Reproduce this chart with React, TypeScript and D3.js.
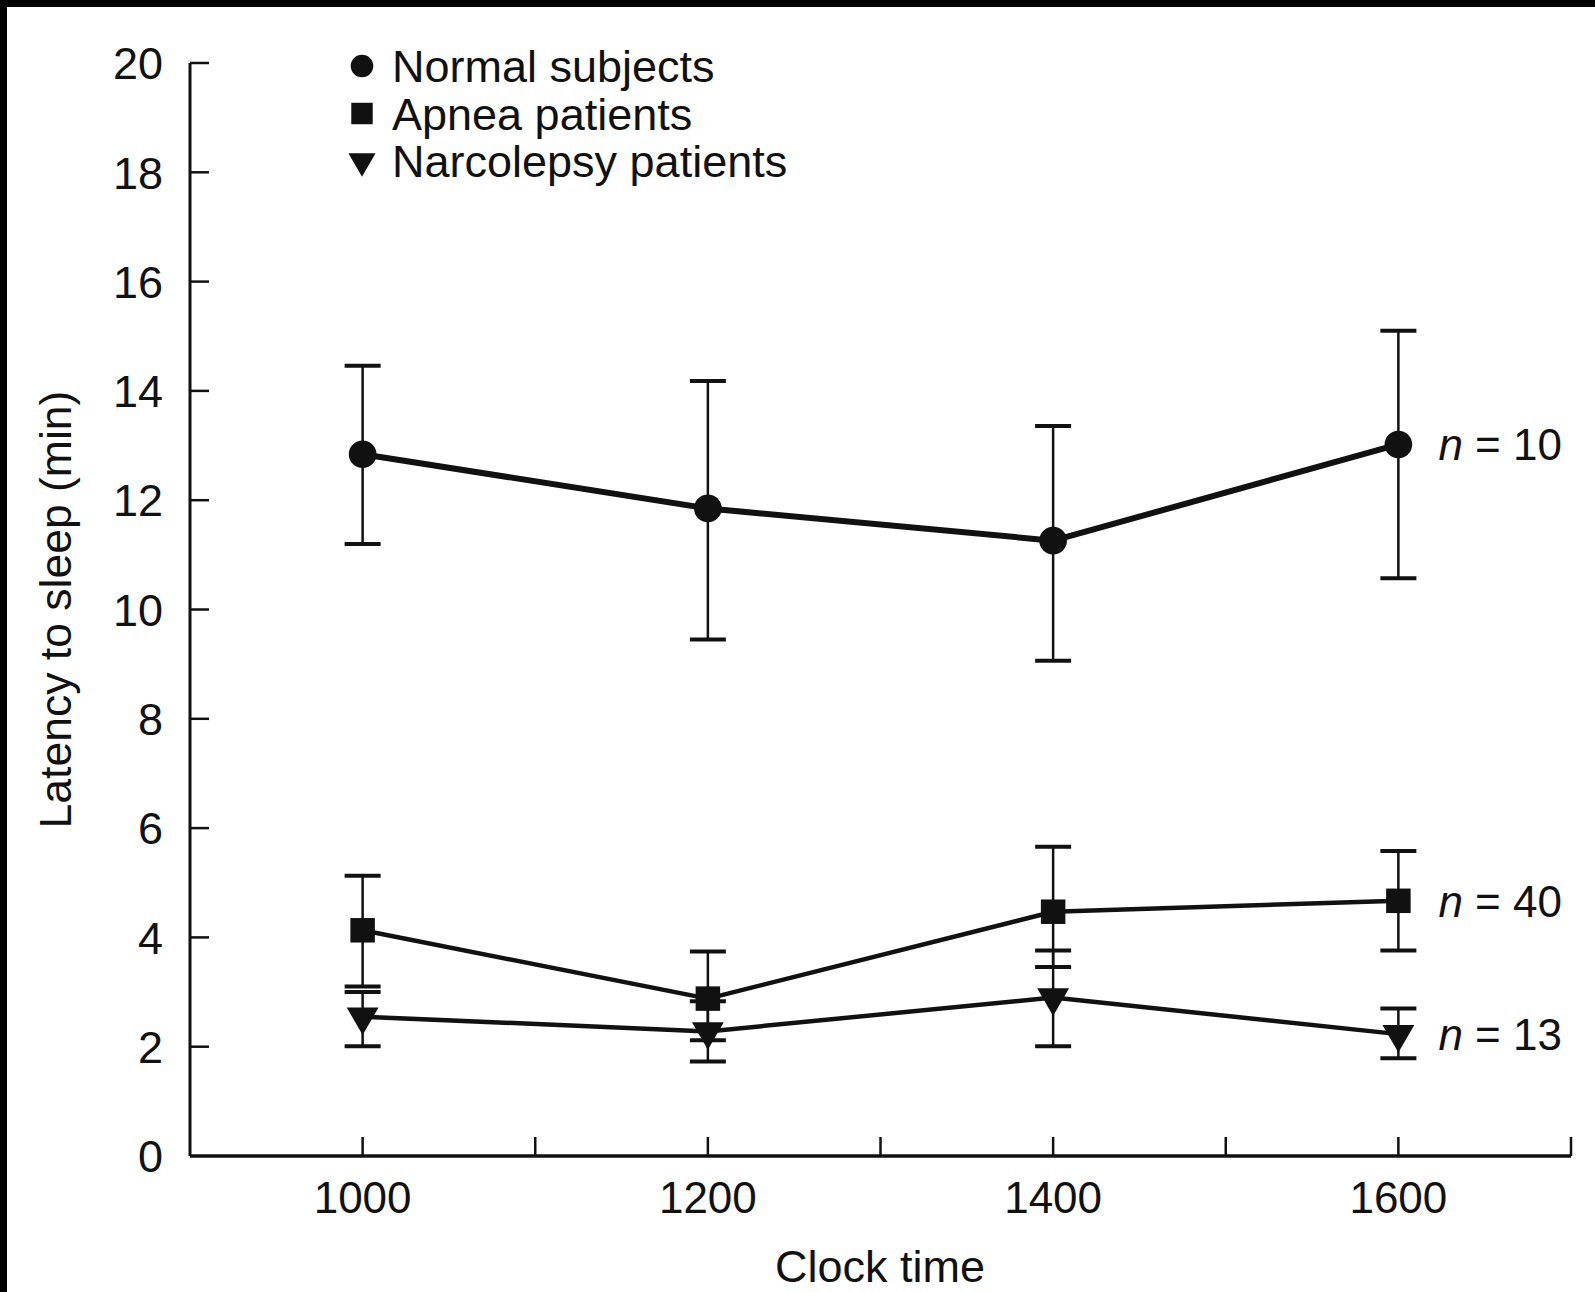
// @ts-nocheck
import React, { useEffect, useRef } from "react";
import * as d3 from "d3";

// clock times (x) and group means with error bar ends (min)
const times = [1000, 1200, 1400, 1600];
const xTicks = [900, 1000, 1100, 1200, 1300, 1400, 1500, 1600, 1700];
const xTickLabels = [1000, 1200, 1400, 1600];
const yTicks = [0, 2, 4, 6, 8, 10, 12, 14, 16, 18, 20];

const normalMean = [12.84, 11.85, 11.26, 13.02];
const normalLow = [11.2, 9.45, 9.06, 10.57];
const normalHigh = [14.46, 14.18, 13.36, 15.1];

const apneaMean = [4.13, 2.88, 4.47, 4.67];
const apneaLow = [3.1, 2.12, 3.46, 3.76];
const apneaHigh = [5.13, 3.74, 5.66, 5.58];

const narcoMean = [2.55, 2.28, 2.9, 2.23];
const narcoLow = [2.01, 1.73, 2.01, 1.79];
const narcoHigh = [3.0, 2.83, 3.76, 2.7];

const groups = ["Normal subjects", "Apnea patients", "Narcolepsy patients"];
const groupN = ["10", "40", "13"];

export default function App() {
  const ref = useRef();

  useEffect(() => {
    const W = 1595;
    const H = 1292;
    const font = "'Liberation Sans', Arial, Helvetica, sans-serif";
    const ink = "#111";

    d3.select(ref.current).select("svg").remove();

    const svg = d3
      .select(ref.current)
      .append("svg")
      .attr("width", W)
      .attr("height", H)
      .style("display", "block")
      .style("background", "#fff");

    // scanned page border
    svg.append("rect").attr("x", 0).attr("y", 0).attr("width", W).attr("height", 7).attr("fill", "#000");
    svg.append("rect").attr("x", 0).attr("y", 0).attr("width", 7).attr("height", H).attr("fill", "#000");

    const x = d3.scaleLinear().domain([900, 1700]).range([190, 1571]);
    const y = d3.scaleLinear().domain([0, 20]).range([1156, 63]);

    // y axis with inward ticks
    const yAxis = svg.append("g");
    yAxis
      .append("line")
      .attr("x1", x(900))
      .attr("x2", x(900))
      .attr("y1", y(20))
      .attr("y2", y(0))
      .attr("stroke", ink)
      .attr("stroke-width", 3);
    yAxis
      .selectAll(".yt")
      .data(yTicks.filter((d) => d > 0))
      .enter()
      .append("line")
      .attr("x1", x(900))
      .attr("x2", x(900) + 19)
      .attr("y1", (d) => y(d))
      .attr("y2", (d) => y(d))
      .attr("stroke", ink)
      .attr("stroke-width", 2.5);
    yAxis
      .selectAll(".yl")
      .data(yTicks)
      .enter()
      .append("text")
      .attr("x", x(900) - 27)
      .attr("y", (d) => y(d))
      .attr("dy", "0.36em")
      .attr("text-anchor", "end")
      .attr("font-family", font)
      .attr("font-size", 45)
      .attr("fill", ink)
      .text((d) => d);

    // x axis with upward ticks
    const xAxis = svg.append("g");
    xAxis
      .append("line")
      .attr("x1", x(900))
      .attr("x2", x(1700))
      .attr("y1", y(0))
      .attr("y2", y(0))
      .attr("stroke", ink)
      .attr("stroke-width", 3.5);
    xAxis
      .selectAll(".xt")
      .data(xTicks.slice(1))
      .enter()
      .append("line")
      .attr("x1", (d) => x(d))
      .attr("x2", (d) => x(d))
      .attr("y1", y(0))
      .attr("y2", y(0) - 19)
      .attr("stroke", ink)
      .attr("stroke-width", 2.5);
    xAxis
      .selectAll(".xl")
      .data(xTickLabels)
      .enter()
      .append("text")
      .attr("x", (d) => x(d))
      .attr("y", 1213)
      .attr("text-anchor", "middle")
      .attr("font-family", font)
      .attr("font-size", 44)
      .attr("fill", ink)
      .text((d) => d);

    svg
      .append("text")
      .attr("x", 880)
      .attr("y", 1282)
      .attr("text-anchor", "middle")
      .attr("font-family", font)
      .attr("font-size", 45)
      .attr("fill", ink)
      .text("Clock time");

    svg
      .append("text")
      .attr("transform", `translate(71, ${y(10)}) rotate(-90)`)
      .attr("text-anchor", "middle")
      .attr("font-family", font)
      .attr("font-size", 44.5)
      .attr("fill", ink)
      .text("Latency to sleep (min)");

    const series = [
      { mean: normalMean, low: normalLow, high: normalHigh, shape: d3.symbolCircle, size: 600, rot: 0, lw: 6 },
      { mean: apneaMean, low: apneaLow, high: apneaHigh, shape: d3.symbolSquare, size: 600, rot: 0, lw: 4.5 },
      { mean: narcoMean, low: narcoLow, high: narcoHigh, shape: d3.symbolTriangle, size: 440, rot: 180, lw: 4.5 },
    ];

    const line = d3
      .line()
      .x((d) => x(d[0]))
      .y((d) => y(d[1]));

    series.forEach((s, si) => {
      const g = svg.append("g");
      const pts = times.map((t, i) => [t, s.mean[i], s.low[i], s.high[i]]);

      // error bars
      g.selectAll(".eb")
        .data(pts)
        .enter()
        .append("line")
        .attr("x1", (d) => x(d[0]))
        .attr("x2", (d) => x(d[0]))
        .attr("y1", (d) => y(d[2]))
        .attr("y2", (d) => y(d[3]))
        .attr("stroke", ink)
        .attr("stroke-width", 2.5);
      ["low", "high"].forEach((k, ki) => {
        g.selectAll(".cap" + k)
          .data(pts)
          .enter()
          .append("line")
          .attr("x1", (d) => x(d[0]) - 18)
          .attr("x2", (d) => x(d[0]) + 18)
          .attr("y1", (d) => y(d[2 + ki]))
          .attr("y2", (d) => y(d[2 + ki]))
          .attr("stroke", ink)
          .attr("stroke-width", 4);
      });

      g.append("path")
        .datum(pts)
        .attr("d", line)
        .attr("fill", "none")
        .attr("stroke", ink)
        .attr("stroke-width", s.lw)
        .attr("stroke-linejoin", "round");

      g.selectAll(".mk")
        .data(pts)
        .enter()
        .append("path")
        .attr("d", d3.symbol().type(s.shape).size(s.size))
        .attr("transform", (d) => `translate(${x(d[0])},${y(d[1])}) rotate(${s.rot})`)
        .attr("fill", ink);

      // n = ... annotation next to last point
      const last = pts[pts.length - 1];
      const t = g
        .append("text")
        .attr("x", x(last[0]) + 40)
        .attr("y", y(last[1]))
        .attr("dy", "0.36em")
        .attr("font-family", font)
        .attr("font-size", 44)
        .attr("fill", ink);
      t.append("tspan").attr("font-style", "italic").text("n");
      t.append("tspan").text(" = " + groupN[si]);
    });

    // legend
    const legend = svg.append("g").attr("transform", "translate(362, 66)");
    const legendShapes = [
      { shape: d3.symbolCircle, size: 400, rot: 0 },
      { shape: d3.symbolSquare, size: 460, rot: 0 },
      { shape: d3.symbolTriangle, size: 320, rot: 180 },
    ];
    groups.forEach((name, i) => {
      legend
        .append("path")
        .attr("d", d3.symbol().type(legendShapes[i].shape).size(legendShapes[i].size))
        .attr("transform", `translate(0, ${i * 47.5}) rotate(${legendShapes[i].rot})`)
        .attr("fill", ink);
      legend
        .append("text")
        .attr("x", 30)
        .attr("y", i * 47.5)
        .attr("dy", "0.36em")
        .attr("font-family", font)
        .attr("font-size", 45)
        .attr("fill", ink)
        .text(name);
    });
  }, []);

  return (
    <div
      ref={ref}
      style={{ position: "absolute", left: 0, top: 0, width: 1595, height: 1292 }}
    ></div>
  );
}
